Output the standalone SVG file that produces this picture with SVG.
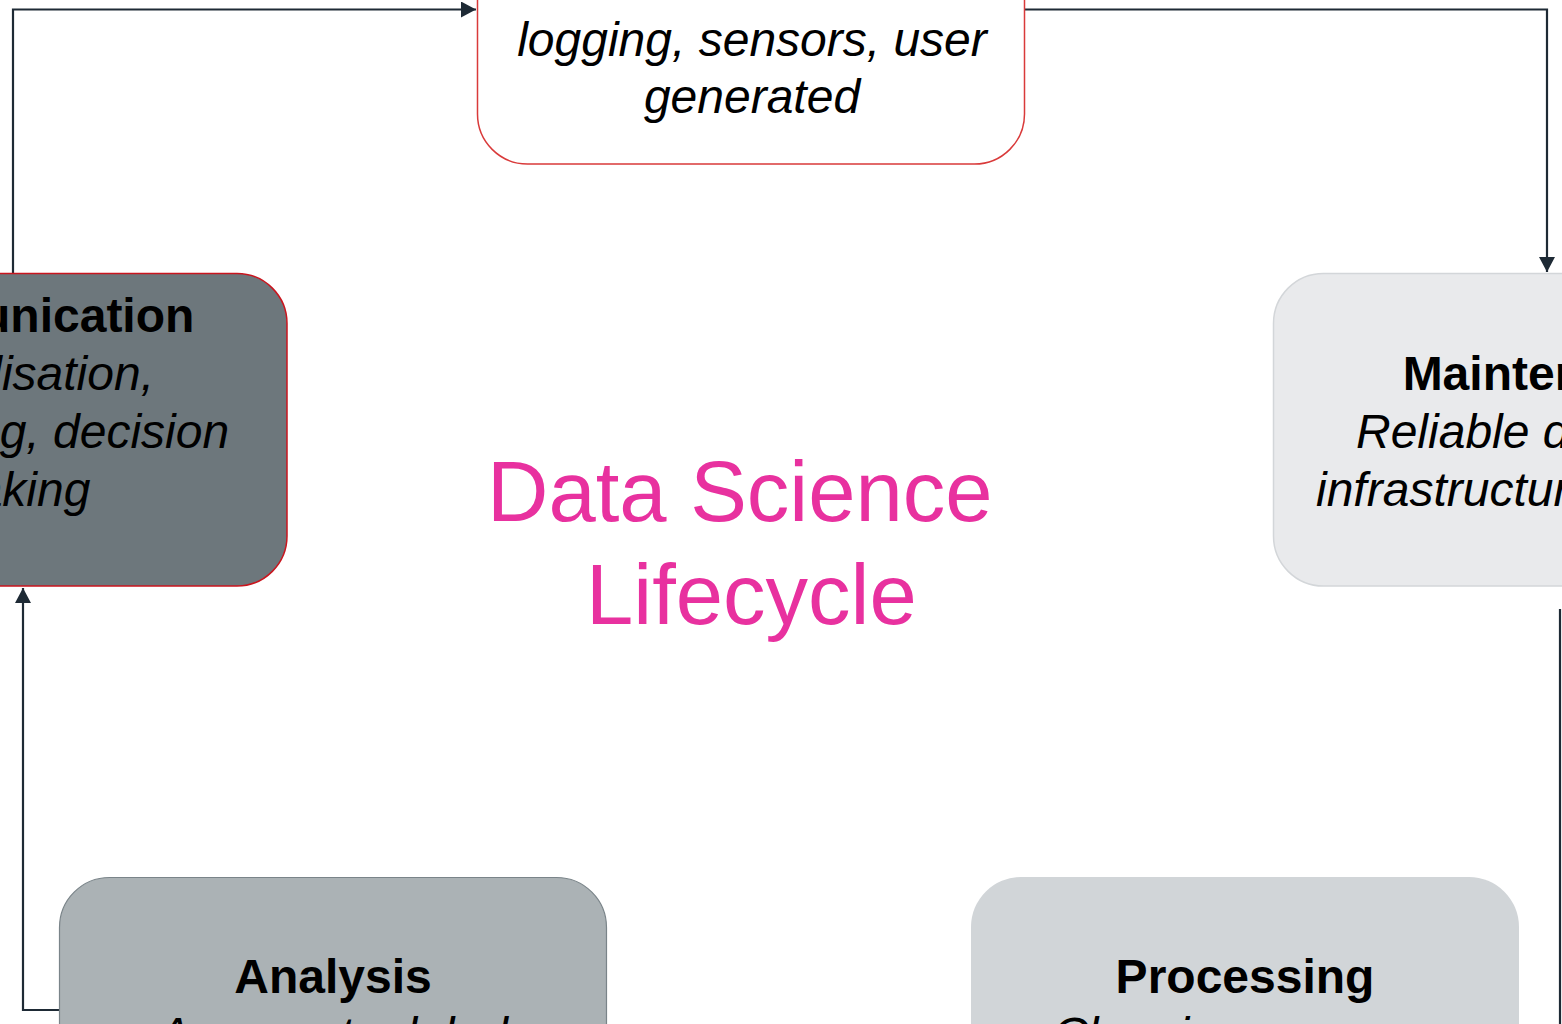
<svg xmlns="http://www.w3.org/2000/svg" width="1562" height="1024" viewBox="0 0 1562 1024">
  <style>
    .t { font-family: "Liberation Sans", Arial, sans-serif; font-size: 48px; fill: #000; }
    .b { font-weight: bold; }
    .i { font-style: italic; }
    .c { text-anchor: middle; }
    .title { font-family: "Liberation Sans", Arial, sans-serif; font-size: 85px; fill: #e8319f; }
    .conn { fill: none; stroke: #1e2a35; stroke-width: 2.2; }
  </style>
  <defs>
    <marker id="arrow" viewBox="0 0 15 16" refX="15" refY="8" markerWidth="15" markerHeight="16" markerUnits="userSpaceOnUse" orient="auto">
      <path d="M0,0 L15,8 L0,16 Z" fill="#1e2a35"/>
    </marker>
  </defs>
  <rect width="1562" height="1024" fill="#ffffff"/>

  <g id="connectors">
    <path class="conn" d="M13,273 V9.5 H476" marker-end="url(#arrow)"/>
    <path class="conn" d="M1025,9.5 H1547 V272" marker-end="url(#arrow)"/>
    <path class="conn" d="M1560,609 V1024"/>
    <path class="conn" d="M71,1010 H23 V588" marker-end="url(#arrow)"/>
  </g>

  <g id="node-sources">
    <rect x="477.5" y="-149" width="547" height="313" rx="50" ry="50" fill="#ffffff" stroke="#d93a3a" stroke-width="1.5"/>
    <text class="t i c" x="752" y="56">logging, sensors, user</text>
    <text class="t i c" x="752" y="113">generated</text>
  </g>

  <g id="node-communication">
    <rect x="-261" y="273.5" width="548" height="312.5" rx="50" ry="50" fill="#6d777c" stroke="#c9151e" stroke-width="1.5"/>
    <text class="t b c" x="13" y="332">Communication</text>
    <text class="t i c" x="13" y="390">Visualisation,</text>
    <text class="t i c" x="13" y="448">storytelling, decision</text>
    <text class="t i c" x="13" y="506">making</text>
  </g>

  <g id="node-maintenance">
    <rect x="1273.5" y="273.5" width="548" height="312.5" rx="50" ry="50" fill="#e9eaec" stroke="#d3d6d9" stroke-width="1.5"/>
    <text class="t b c" x="1548" y="390">Maintenance</text>
    <text class="t i" x="1356" y="448">Reliable data</text>
    <text class="t i" x="1316" y="506">infrastructure</text>
  </g>

  <g id="node-analysis">
    <rect x="59.5" y="877.5" width="547" height="313" rx="50" ry="50" fill="#abb2b5" stroke="#7a8489" stroke-width="1.2"/>
    <text class="t b c" x="333" y="993">Analysis</text>
    <text class="t i c" x="333" y="1051">Aggregate, label</text>
  </g>

  <g id="node-processing">
    <rect x="971" y="877" width="548" height="313" rx="50" ry="50" fill="#d1d5d8"/>
    <text class="t b c" x="1245" y="993">Processing</text>
    <text class="t i" x="1053" y="1051">Cleaning,</text>
  </g>

  <g id="center-title">
    <text class="title" x="487" y="521">Data Science</text>
    <text class="title" x="586" y="624">Lifecycle</text>
  </g>
</svg>
